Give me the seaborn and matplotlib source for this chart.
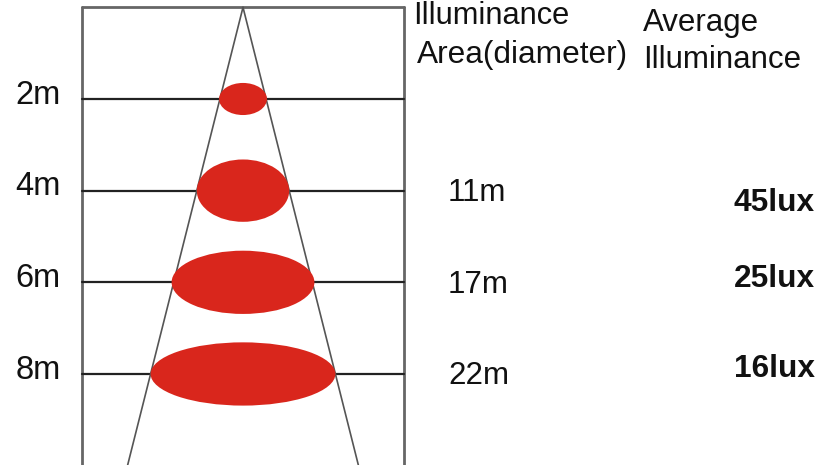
import numpy as np
import seaborn as sns
import matplotlib
matplotlib.use('Agg')
from matplotlib import pyplot as plt
from matplotlib.patches import Ellipse

# mounting height (m), spot diameter (m), average illuminance (lux)
distances = [2, 4, 6, 8]
distance_labels = ['2m', '4m', '6m', '8m']
spot_diameters = [5.7, 11, 17, 22]
diameter_labels = ['', '11m', '17m', '22m']
lux_labels = ['', '45lux', '25lux', '16lux']

# styling
spot_heights = [0.70, 1.36, 1.38, 1.38]
lux_offsets = [0, 0.28, -0.08, -0.1]
RED = '#d9261c'
TEXT = '#111111'

sns.set_theme(style='white')
plt.rcParams['font.family'] = ['Liberation Sans', 'DejaVu Sans']

fig = plt.figure(figsize=(8.19, 4.65), dpi=100)
ax = fig.add_axes([0, 0, 1, 1])
ax.set_xlim(-243 / 8.4, 576 / 8.4)
ax.set_ylim((465 - 7.33) / 45.83, -7.33 / 45.83)
ax.axis('off')

box_half = 19.2
bottom = 10.5

# frame
ax.plot([-box_half, box_half], [0, 0], color='#666666', lw=2, zorder=1)
ax.plot([-box_half, -box_half], [0, bottom], color='#666666', lw=2, zorder=1)
ax.plot([box_half, box_half], [0, bottom], color='#666666', lw=2, zorder=1)

# distance lines
for d, lab in zip(distances, distance_labels):
    ax.plot([-box_half, box_half], [d, d], color='#222222', lw=1.6, zorder=1)
    ax.text(-21.7, d - 0.08, lab, ha='right', va='center', fontsize=23.5, color=TEXT)

# beam cone from the widest spot
spread = spot_diameters[-1] / distances[-1] / 2
for sign in (-1, 1):
    sns.lineplot(x=[0, sign * spread * bottom], y=[0, bottom], sort=False,
                 estimator=None, color='#555555', lw=1.2, ax=ax, zorder=2)

# illuminated spots
for d, w, h in zip(distances, spot_diameters, spot_heights):
    ax.add_patch(Ellipse((0, d), w, h, facecolor=RED, edgecolor='none', zorder=3))

# right-hand columns
for d, dl, ll, off in zip(distances, diameter_labels, lux_labels, lux_offsets):
    if dl:
        ax.text(24.4, d + 0.05, dl, ha='left', va='center', fontsize=22.5, color=TEXT)
    if ll:
        ax.text(68.1, d + off, ll, ha='right', va='center', fontsize=22.8,
                fontweight='bold', color=TEXT)

ax.text(20.2, 0.2, 'Illuminance', ha='left', va='center', fontsize=22.2, color=TEXT)
ax.text(20.7, 1.03, 'Area(diameter)', ha='left', va='center', fontsize=22.8, color=TEXT)
ax.text(47.6, 0.34, 'Average', ha='left', va='center', fontsize=22.5, color=TEXT)
ax.text(47.6, 1.15, 'Illuminance', ha='left', va='center', fontsize=22.5, color=TEXT)

plt.savefig('out.png', dpi=100, facecolor='white')
